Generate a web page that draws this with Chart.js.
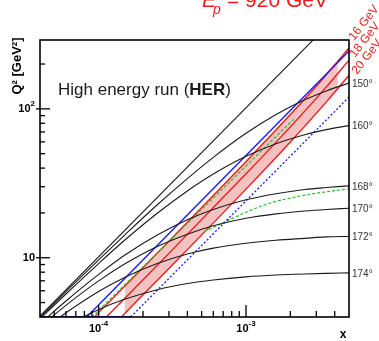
<!DOCTYPE html>
<html>
<head>
<meta charset="utf-8">
<title>HER kinematic plane</title>
<script src="https://cdn.jsdelivr.net/npm/chart.js@4.4.1/dist/chart.umd.min.js"></script>
<style>
  html, body { margin: 0; padding: 0; background: #fff; }
  #plot { display: block; }
</style>
</head>
<body>
<canvas id="plot" width="379" height="341"></canvas>
<script>
console.log("kinematic plane chart loaded");

// ==========================
// Data
// ==========================
// y = 1 line
const xYOne = [4e-5, 3e-3];
const q2YOne = [4.06, 305];

// lines of constant electron angle (all share the same x samples)
const xAngle = [4e-5, 6e-5, 1e-4, 1.5e-4, 2.5e-4, 4e-4, 6e-4, 1e-3, 1.6e-3, 2.5e-3, 3.5e-3, 5e-3];
const q2At150 = [3.98, 5.92, 9.69, 14.2, 22.7, 34.0, 47.2, 68.5, 91.6, 115, 132, 149];
const q2At160 = [3.89, 5.71, 9.14, 13.1, 19.9, 28.1, 36.5, 48.0, 58.3, 67.0, 72.5, 77.2];
const q2At168 = [3.61, 5.12, 7.73, 10.4, 14.2, 18.0, 21.1, 24.5, 26.9, 28.7, 29.6, 30.4];
const q2At170 = [3.44, 4.79, 6.99, 9.07, 11.9, 14.4, 16.4, 18.4, 19.7, 20.6, 21.1, 21.5];
const q2At172 = [3.16, 4.27, 5.94, 7.38, 9.15, 10.6, 11.6, 12.5, 13.1, 13.5, 13.8, 13.9];
const q2At174 = [2.70, 3.46, 4.49, 5.26, 6.10, 6.71, 7.09, 7.44, 7.65, 7.78, 7.85, 7.91];
const angleLabels = ["150°", "160°", "168°", "170°", "172°", "174°"];

// scattered electron energy lines
const xE16 = [9e-5, 1e-4, 3e-4, 1e-3, 2e-3, 3.5e-3, 5e-3];
const q2E16 = [3.85, 4.28, 12.9, 44.2, 91.5, 169, 256];
const xE18 = [1.1e-4, 3e-4, 1e-3, 2e-3, 3.5e-3, 5e-3];
const q2E18 = [3.90, 10.7, 36.6, 75.7, 140, 212];
const xE20 = [1.4e-4, 3e-4, 1e-3, 2e-3, 3.5e-3, 5e-3];
const q2E20 = [3.93, 8.47, 28.9, 59.9, 111, 168];
const energyLabels = ["16 GeV", "18 GeV", "20 GeV"];

// shaded band between the 16 and 20 GeV lines
const xBand = [1.5e-4, 2.5e-4, 4e-4, 7e-4, 1.2e-3, 2e-3, 3e-3, 4.2e-3];
const q2BandHigh = [6.44, 10.8, 17.3, 30.6, 53.4, 91.5, 142, 208];
const q2BandLow = [4.22, 7.05, 11.3, 20.1, 35.0, 59.9, 93.2, 137];

// blue and green boundaries
const xBlue = [8.3e-5, 5e-3];
const q2Blue = [4, 245];
const xBlueDot = [1.65e-4, 5e-3];
const q2BlueDot = [4, 120];
const xBlueFloor = [4e-5, 1.65e-4];
const q2BlueFloor = [4, 4];
const xGreenDiag = [9e-5, 2.1e-3];
const q2GreenDiag = [4, 85];
const xGreenCurve = [5.2e-4, 8.3e-4, 1.4e-3, 2.4e-3, 5e-3];
const q2GreenCurve = [15.0, 18.6, 23.0, 26.1, 29.1];

// axis ranges
const xMin = 4e-5, xMax = 5e-3;
const yMin = 4, yMax = 290;

const FONT = '"Liberation Sans", Arial, sans-serif';
const BLACK = "#1b1b1b";
const RED = "#f01a1a";
const BLUE = "#1a1aff";
const GREEN = "#24c024";

function pts(xs, ys) {
  return xs.map((x, i) => ({ x: x, y: ys[i] }));
}

function lineSet(label, xs, ys, color, width, extra) {
  return Object.assign({
    label: label,
    data: pts(xs, ys),
    showLine: true,
    borderColor: color,
    borderWidth: width,
    pointRadius: 0,
    fill: false,
    cubicInterpolationMode: "monotone"
  }, extra || {});
}

// ==========================
// Datasets
// ==========================
const datasets = [
  lineSet("band high", xBand, q2BandHigh, "rgba(0,0,0,0)", 0,
    { fill: 1, backgroundColor: "rgba(228,85,85,0.36)", order: 5 }),
  lineSet("band low", xBand, q2BandLow, "rgba(0,0,0,0)", 0, { order: 5 }),
  lineSet("16 GeV", xE16, q2E16, RED, 1.4, { order: 3 }),
  lineSet("18 GeV", xE18, q2E18, RED, 1.4, { order: 3 }),
  lineSet("20 GeV", xE20, q2E20, RED, 1.4, { order: 3 }),
  lineSet("blue", xBlue, q2Blue, BLUE, 1.4, { order: 2 }),
  lineSet("blue dotted", xBlueDot, q2BlueDot, BLUE, 1.3, { order: 2, borderDash: [2, 2] }),
  lineSet("blue floor", xBlueFloor, q2BlueFloor, BLUE, 2, { order: 2 }),
  lineSet("green diag", xGreenDiag, q2GreenDiag, GREEN, 1.2, { order: 2, borderDash: [3, 2] }),
  lineSet("green curve", xGreenCurve, q2GreenCurve, GREEN, 1.2, { order: 2, borderDash: [3, 2] }),
  lineSet("y=1", xYOne, q2YOne, BLACK, 1.1, { order: 1 })
];

const angleSeries = [q2At150, q2At160, q2At168, q2At170, q2At172, q2At174];
const angleStart = datasets.length;
angleSeries.forEach((ys, i) => {
  datasets.push(lineSet(angleLabels[i], xAngle, ys, BLACK, 1.1, { order: 1 }));
});

// ==========================
// Frame, ticks and texts
// ==========================
function isDecade(v) {
  const lg = Math.log10(v);
  return Math.abs(lg - Math.round(lg)) < 1e-6;
}

function isWholeStep(v) {
  const lg = Math.floor(Math.log10(v) + 1e-9);
  const sig = v / Math.pow(10, lg);
  return Math.abs(sig - Math.round(sig)) < 1e-6;
}

// "10" with a raised exponent; align = "right" or "center"
function drawPower(ctx, exp, x, y, align) {
  const base = "10";
  const sup = exp === 1 ? "" : String(exp);
  ctx.font = "bold 11px " + FONT;
  const wb = ctx.measureText(base).width;
  ctx.font = "bold 8px " + FONT;
  const ws = sup ? ctx.measureText(sup).width : 0;
  const total = wb + ws;
  const left = align === "right" ? x - total : x - total / 2;
  ctx.textAlign = "left";
  ctx.textBaseline = "middle";
  ctx.font = "bold 11px " + FONT;
  ctx.fillText(base, left, y);
  if (sup) {
    ctx.font = "bold 8px " + FONT;
    ctx.fillText(sup, left + wb, y - 5);
  }
}

const decorations = {
  id: "decorations",
  afterDraw(chart) {
    const ctx = chart.ctx;
    const area = chart.chartArea;
    const xs = chart.scales.x;
    const ys = chart.scales.y;

    ctx.save();
    ctx.strokeStyle = "#000";
    ctx.fillStyle = "#000";

    // frame
    ctx.lineWidth = 1.6;
    ctx.strokeRect(area.left, area.top, area.right - area.left, area.bottom - area.top);

    // x ticks (pointing inwards)
    ctx.lineWidth = 1.3;
    xs.ticks.forEach(t => {
      if (!isWholeStep(t.value)) return;
      const px = xs.getPixelForValue(t.value);
      if (px <= area.left + 1 || px >= area.right - 1) return;
      const len = isDecade(t.value) ? 12 : 6;
      ctx.beginPath();
      ctx.moveTo(px, area.bottom);
      ctx.lineTo(px, area.bottom - len);
      ctx.stroke();
      if (isDecade(t.value)) {
        drawPower(ctx, Math.round(Math.log10(t.value)), px, 329, "center");
      }
    });

    // y ticks
    ys.ticks.forEach(t => {
      if (!isWholeStep(t.value)) return;
      const py = ys.getPixelForValue(t.value);
      if (py <= area.top + 1 || py >= area.bottom - 1) return;
      const major = isDecade(t.value);
      ctx.beginPath();
      ctx.moveTo(major ? area.left - 4 : area.left, py);
      ctx.lineTo(area.left + (major ? 10 : 5), py);
      ctx.stroke();
      if (major) {
        drawPower(ctx, Math.round(Math.log10(t.value)), area.left - 5, py, "right");
      }
    });

    // axis titles
    ctx.font = "bold 12px " + FONT;
    ctx.textAlign = "center";
    ctx.textBaseline = "middle";
    ctx.fillText("x", 343, 335);
    ctx.save();
    ctx.translate(17, 66);
    ctx.rotate(-Math.PI / 2);
    ctx.font = "bold 13px " + FONT;
    ctx.fillText("Q² [GeV²]", 0, 0);
    ctx.restore();

    // angle labels at the right end of each curve
    ctx.font = "10px " + FONT;
    ctx.fillStyle = "#333";
    ctx.textAlign = "left";
    angleLabels.forEach((lbl, i) => {
      const meta = chart.getDatasetMeta(angleStart + i);
      const last = meta.data[meta.data.length - 1];
      ctx.fillText(lbl, area.right + 3, last.y + 1);
    });

    // energy labels, rotated
    ctx.fillStyle = RED;
    ctx.font = "12px " + FONT;
    ctx.textBaseline = "alphabetic";
    const energyAnchors = [[354, 41], [355, 58], [357, 75]];
    energyLabels.forEach((lbl, i) => {
      ctx.save();
      ctx.translate(energyAnchors[i][0], energyAnchors[i][1]);
      ctx.rotate(-52 * Math.PI / 180);
      ctx.fillText(lbl, 0, 0);
      ctx.restore();
    });

    // header, cut at the top of the picture
    ctx.font = "italic 21px " + FONT;
    ctx.fillText("E", 202, 7);
    ctx.font = "italic 14px " + FONT;
    ctx.fillText("p", 213, 14);
    ctx.font = "21px " + FONT;
    ctx.fillText("= 920 GeV", 227, 7);

    // run label
    ctx.fillStyle = "#1a1a1a";
    ctx.font = "17px " + FONT;
    const part1 = "High energy run (";
    ctx.fillText(part1, 58, 95);
    let w = ctx.measureText(part1).width;
    ctx.font = "bold 17px " + FONT;
    ctx.fillText("HER", 58 + w, 95);
    w += ctx.measureText("HER").width;
    ctx.font = "17px " + FONT;
    ctx.fillText(")", 58 + w, 95);

    ctx.restore();
  }
};

// ==========================
// Chart
// ==========================
const ctx = document.getElementById("plot").getContext("2d");
const chart = new Chart(ctx, {
  type: "scatter",
  data: { datasets: datasets },
  options: {
    responsive: false,
    animation: false,
    devicePixelRatio: 1,
    layout: { padding: { top: 40, right: 30, left: 0, bottom: 0 } },
    plugins: {
      legend: { display: false },
      tooltip: { enabled: false },
      title: { display: false }
    },
    scales: {
      x: {
        type: "logarithmic",
        min: xMin,
        max: xMax,
        grid: { display: false },
        border: { display: false },
        ticks: { display: false, autoSkip: false },
        afterFit: s => { s.height = 24; }
      },
      y: {
        type: "logarithmic",
        min: yMin,
        max: yMax,
        grid: { display: false },
        border: { display: false },
        ticks: { display: false, autoSkip: false },
        afterFit: s => { s.width = 40; }
      }
    }
  },
  plugins: [decorations]
});

console.log("chart area:", chart.chartArea);
</script>
</body>
</html>
